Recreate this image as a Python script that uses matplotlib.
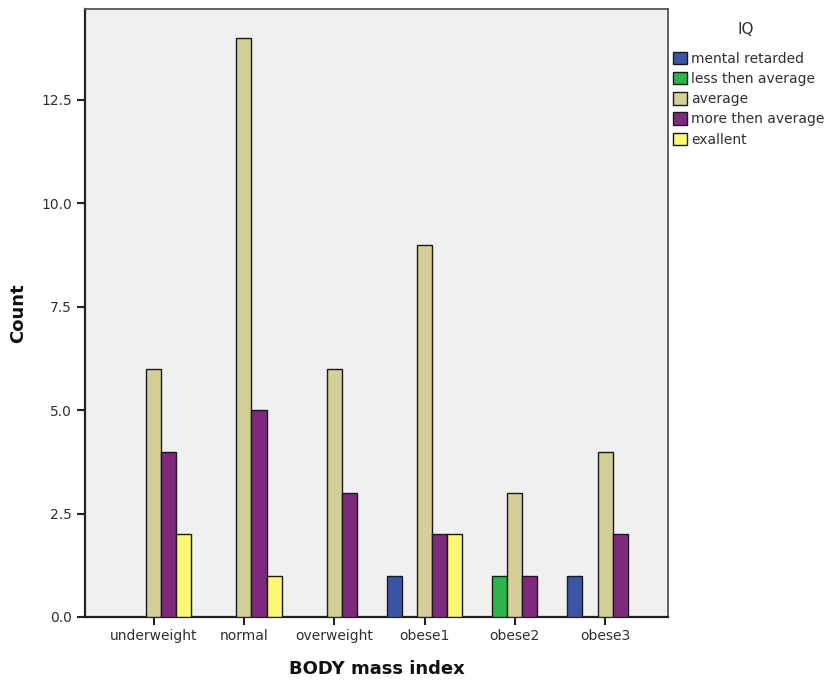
import numpy as np
import matplotlib; matplotlib.use("Agg")
import matplotlib.pyplot as plt
from matplotlib.patches import Patch

categories = ["underweight", "normal", "overweight", "obese1", "obese2", "obese3"]
iq_levels = ["mental retarded", "less then average", "average", "more then average", "exallent"]
mental_retarded = [0, 0, 0, 1, 0, 1]
less_than_avg = [0, 0, 0, 0, 1, 0]
average = [6, 14, 6, 9, 3, 4]
more_than_avg = [4, 5, 3, 2, 1, 2]
exallent = [2, 1, 0, 2, 0, 0]
series = [mental_retarded, less_than_avg, average, more_than_avg, exallent]
colors = ["#3a55a6", "#2bb54a", "#d4cf98", "#7d2a7e", "#fbf874"]

TXT = "#303030"
fig = plt.figure(figsize=(8.26, 6.81), dpi=100)
ax = fig.add_axes([0.103, 0.094, 0.706, 0.893])
ax.set_facecolor("#f0f0f0")

x = np.arange(len(categories))
w = 1 / 6
for i, (vals, col) in enumerate(zip(series, colors)):
    vals = np.array(vals, dtype=float)
    keep = vals > 0
    ax.bar(x[keep] + (i - 2) * w, vals[keep], width=w, color=col, edgecolor="#1a1a1a", linewidth=1.0, zorder=3)

ax.set_xlim(-0.76, 5.7)
ax.set_ylim(0, 14.7)
ax.set_yticks([0, 2.5, 5, 7.5, 10, 12.5])
ax.set_yticklabels(["0.0", "2.5", "5.0", "7.5", "10.0", "12.5"])
ax.set_xticks(x)
ax.set_xticklabels(categories)
ax.tick_params(axis="both", labelsize=10, colors="#222222", labelcolor=TXT, width=1.5, length=6)
ax.tick_params(axis="x", pad=3)
for s in ax.spines.values():
    s.set_color("#555555"); s.set_linewidth(1.3)
ax.spines["left"].set_color("#222222"); ax.spines["bottom"].set_color("#222222")
ax.spines["left"].set_linewidth(1.6); ax.spines["bottom"].set_linewidth(1.6)

ax.set_ylabel("Count", fontsize=13, fontweight="bold", color="#111111", labelpad=10)
ax.set_xlabel("BODY mass index", fontsize=13, fontweight="bold", color="#111111", labelpad=12)

# legend, title placed on its own like SPSS does
fig.text(746 / 826, 1 - 30 / 681, "IQ", ha="center", va="center", fontsize=11, color=TXT)
handles = [Patch(facecolor=c, edgecolor="#1a1a1a", linewidth=1.0) for c in colors]
leg = fig.legend(handles, iq_levels, loc="upper left", bbox_to_anchor=(0.808, 1 - 46 / 681), frameon=False,
                 fontsize=10, handlelength=1.0, handleheight=1.0,
                 handletextpad=0.3, labelspacing=0.45, borderaxespad=0.2, borderpad=0.2)
for t in leg.get_texts():
    t.set_color(TXT)

fig.savefig("out.png", dpi=100)
